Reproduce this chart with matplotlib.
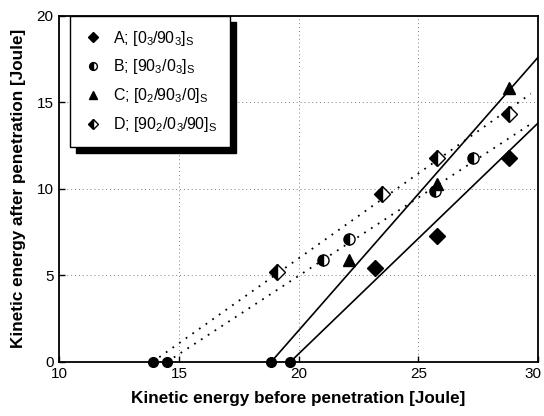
import matplotlib
matplotlib.use("Agg")
import matplotlib.pyplot as plt
import matplotlib.transforms as mtransforms
import numpy as np

plt.rcParams['font.family'] = ['Liberation Sans', 'DejaVu Sans']
plt.rcParams['mathtext.fontset'] = 'custom'
plt.rcParams['mathtext.rm'] = 'Liberation Sans'
plt.rcParams['mathtext.it'] = 'Liberation Sans'

# data
a_x = [23.2, 25.8, 28.8]
a_y = [5.4, 7.3, 11.8]
b_x = [21.0, 22.1, 25.7, 27.3]
b_y = [5.9, 7.1, 9.9, 11.8]
c_x = [22.1, 25.8, 28.8]
c_y = [5.9, 10.3, 15.8]
d_x = [19.1, 23.5, 25.8, 28.8]
d_y = [5.2, 9.7, 11.8, 14.3]
zero_x = [13.9, 14.5, 18.85, 19.65]
zero_y = [0, 0, 0, 0]

# fitted lines: (x_start, y_start, x_end, y_end)
line_a = ([19.65, 30.0], [0.0, 13.8])
line_c = ([18.85, 30.0], [0.0, 17.6])
line_b = ([14.5, 29.7], [0.0, 13.75])
line_d = ([13.9, 29.7], [0.0, 15.5])

labels = [r'A; [0$_3$/90$_3$]$_\mathrm{S}$',
          r'B; [90$_3$/0$_3$]$_\mathrm{S}$',
          r'C; [0$_2$/90$_3$/0]$_\mathrm{S}$',
          r'D; [90$_2$/0$_3$/90]$_\mathrm{S}$']

fig = plt.figure(figsize=(5.44, 4.16), dpi=100)
ax = fig.add_axes([0.109, 0.130, 0.880, 0.832])

ax.plot(*line_a, color='black', lw=1.2, zorder=2)
ax.plot(*line_c, color='black', lw=1.2, zorder=2)
ax.plot(*line_b, color='black', lw=1.3, ls=(0, (1, 3.5)), zorder=2)
ax.plot(*line_d, color='black', lw=1.3, ls=(0, (1, 3.5)), zorder=2)

ms = 8
ha, = ax.plot(a_x, a_y, 'D', color='black', ms=ms, ls='none', zorder=3)
hb, = ax.plot(b_x, b_y, 'o', color='black', mfc='black', mfcalt='white', fillstyle='left',
              mec='black', mew=1.0, ms=ms, ls='none', zorder=3)
hc, = ax.plot(c_x, c_y, '^', color='black', ms=ms + 1, ls='none', zorder=3)
hd, = ax.plot(d_x, d_y, 'D', color='black', mfc='black', mfcalt='white', fillstyle='left',
              mec='black', mew=1.0, ms=ms, ls='none', zorder=3)
ax.plot(zero_x, zero_y, 'o', color='black', ms=7, ls='none', zorder=4, clip_on=False)

ax.set_xlim(10, 30)
ax.set_ylim(0, 20)
ax.set_xticks([10, 15, 20, 25, 30])
ax.set_yticks([0, 5, 10, 15, 20])
ax.tick_params(direction='in', length=4, width=1, labelsize=11, pad=4)
for s in ax.spines.values():
    s.set_linewidth(1.3)

ax.grid(True, color='gray', lw=0.7, ls=(0, (1, 3)))
ax.set_axisbelow(True)

ax.set_xlabel('Kinetic energy before penetration [Joule]', fontsize=12.3, fontweight='bold', labelpad=7)
ax.set_ylabel('Kinetic energy after penetration [Joule]', fontsize=12.3, fontweight='bold', labelpad=8)

# nudge the last x tick label so it stays inside the figure
last = ax.get_xticklabels()[-1]
last.set_transform(last.get_transform() +
                   mtransforms.ScaledTranslation(-4 / 72, 0, fig.dpi_scale_trans))

leg = ax.legend([ha, hb, hc, hd], labels, loc='upper left', bbox_to_anchor=(0.022, 1.0),
                fontsize=11.5, markerscale=0.7, frameon=True, fancybox=False,
                edgecolor='black', framealpha=1,
                shadow={'color': 'black', 'alpha': 1, 'ox': 4.5, 'oy': -4.5},
                borderpad=0.8, labelspacing=0.62, handletextpad=0.6, handlelength=1.3,
                borderaxespad=0)
leg.get_frame().set_linewidth(1.0)

fig.savefig('out.png', dpi=100)
